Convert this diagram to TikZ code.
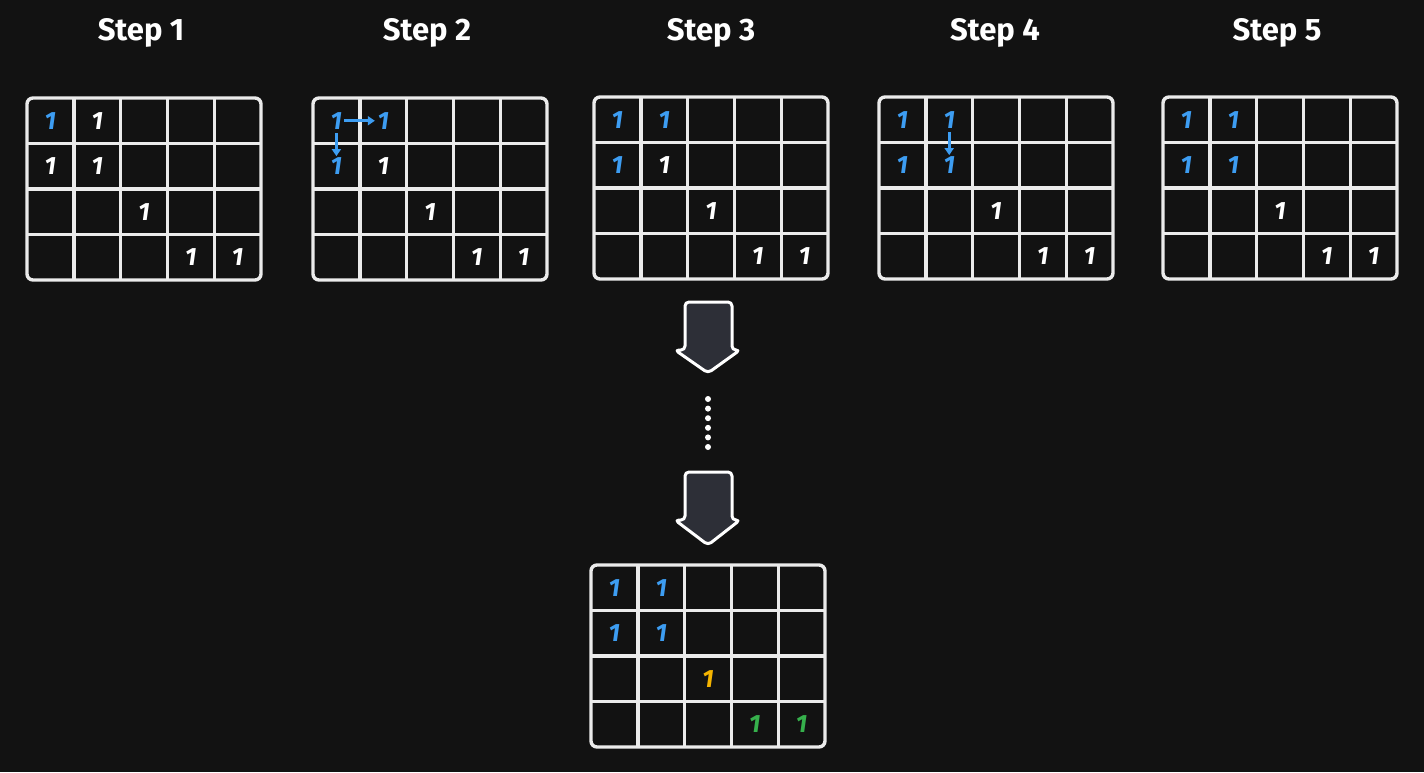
\documentclass[tikz,border=0pt]{standalone}
\usepackage{fontspec}
\setmainfont{Fira Sans}
\usetikzlibrary{arrows.meta,calc}
\definecolor{bg}{HTML}{121212}
\definecolor{ink}{HTML}{EBEBEB}
\definecolor{blueone}{HTML}{3D9DF2}
\definecolor{yellowone}{HTML}{F5B400}
\definecolor{greenone}{HTML}{36B04C}
\definecolor{arrowfill}{HTML}{2D2F37}
\tikzset{
  gridbox/.style={draw=ink, line width=3.4pt, rounded corners=6pt, inner sep=0pt, outer sep=0pt, anchor=north west, minimum width=234pt, minimum height=182pt},
  gridline/.style={draw=ink, line width=3.4pt},
  num/.style={font=\fontsize{25}{25}\selectfont\bfseries\itshape, inner sep=0.5pt},
  title/.style={font=\fontsize{31}{31}\selectfont\bfseries, text=white},
  smallarrow/.style={draw=blueone, line width=2.8pt, -{Triangle[length=7pt,width=9pt]}},
  blockarrow/.style={fill=arrowfill, draw=white, line width=3pt, rounded corners=4pt, line join=round},
  dot/.style={circle, fill=white, inner sep=0pt, minimum size=6pt}
}
\newcommand\cellgrid[3]{%
  \node[gridbox] (#1) at (#2,#3) {};
  \foreach \i in {1,...,4} \draw[gridline] ($(#1.north west)+(\i*46.8,0)$) -- ($(#1.south west)+(\i*46.8,0)$);
  \foreach \j in {1,...,3} \draw[gridline] ($(#1.north west)+(0,\j*45.5)$) -- ($(#1.north east)+(0,\j*45.5)$);
}
% #1 node name, #2 grid name, #3 row, #4 col, #5 colour
\newcommand\one[5]{%
  \node[num, text=#5] (#1) at ($(#2.north west)+(23.4+#4*46.8,22.75+#3*45.5)$) {1};
}
\begin{document}
\begin{tikzpicture}[x=1pt,y=-1pt]
\fill[bg] (0,0) rectangle (1424,772);
\useasboundingbox (0,0) rectangle (1424,772);

% titles
\node[title] (t1) at (141,33) {Step 1};
\node[title] (t2) at (427,33) {Step 2};
\node[title] (t3) at (711,33) {Step 3};
\node[title] (t4) at (995,33) {Step 4};
\node[title] (t5) at (1277,33) {Step 5};

% grids
\cellgrid{g1}{27}{98}
\cellgrid{g2}{313}{98}
\cellgrid{g3}{594}{97}
\cellgrid{g4}{879}{97}
\cellgrid{g5}{1163}{97}
\cellgrid{g6}{591}{565}

% grid 1
\one{a00}{g1}{0}{0}{blueone}
\one{a01}{g1}{0}{1}{white}
\one{a10}{g1}{1}{0}{white}
\one{a11}{g1}{1}{1}{white}
\one{a22}{g1}{2}{2}{white}
\one{a33}{g1}{3}{3}{white}
\one{a34}{g1}{3}{4}{white}

% grid 2
\one{b00}{g2}{0}{0}{blueone}
\one{b01}{g2}{0}{1}{blueone}
\one{b10}{g2}{1}{0}{blueone}
\one{b11}{g2}{1}{1}{white}
\one{b22}{g2}{2}{2}{white}
\one{b33}{g2}{3}{3}{white}
\one{b34}{g2}{3}{4}{white}
\draw[smallarrow] ([xshift=1pt]b00.east) -- ([xshift=-2pt]b01.west);
\draw[smallarrow] ([yshift=-3pt]b00.south) -- ([yshift=1pt]b10.north);

% grid 3
\one{c00}{g3}{0}{0}{blueone}
\one{c01}{g3}{0}{1}{blueone}
\one{c10}{g3}{1}{0}{blueone}
\one{c11}{g3}{1}{1}{white}
\one{c22}{g3}{2}{2}{white}
\one{c33}{g3}{3}{3}{white}
\one{c34}{g3}{3}{4}{white}

% grid 4
\one{d00}{g4}{0}{0}{blueone}
\one{d01}{g4}{0}{1}{blueone}
\one{d10}{g4}{1}{0}{blueone}
\one{d11}{g4}{1}{1}{blueone}
\one{d22}{g4}{2}{2}{white}
\one{d33}{g4}{3}{3}{white}
\one{d34}{g4}{3}{4}{white}
\draw[smallarrow] ([yshift=-3pt]d01.south) -- ([yshift=1pt]d11.north);

% grid 5
\one{e00}{g5}{0}{0}{blueone}
\one{e01}{g5}{0}{1}{blueone}
\one{e10}{g5}{1}{0}{blueone}
\one{e11}{g5}{1}{1}{blueone}
\one{e22}{g5}{2}{2}{white}
\one{e33}{g5}{3}{3}{white}
\one{e34}{g5}{3}{4}{white}

% final grid
\one{f00}{g6}{0}{0}{blueone}
\one{f01}{g6}{0}{1}{blueone}
\one{f10}{g6}{1}{0}{blueone}
\one{f11}{g6}{1}{1}{blueone}
\one{f22}{g6}{2}{2}{yellowone}
\one{f33}{g6}{3}{3}{greenone}
\one{f34}{g6}{3}{4}{greenone}

% block arrows
\draw[blockarrow] (685,302) -- (732,302) -- (732,350) -- (740,350) -- (708,373) -- (675,350) -- (685,350) -- cycle;
\draw[blockarrow] (685,472) -- (732,472) -- (732,520) -- (740,520) -- (708,545) -- (675,520) -- (685,520) -- cycle;

% dots
\foreach \k in {0,...,5} \node[dot] (dot\k) at (708,399+\k*9.6) {};
\end{tikzpicture}
\end{document}
